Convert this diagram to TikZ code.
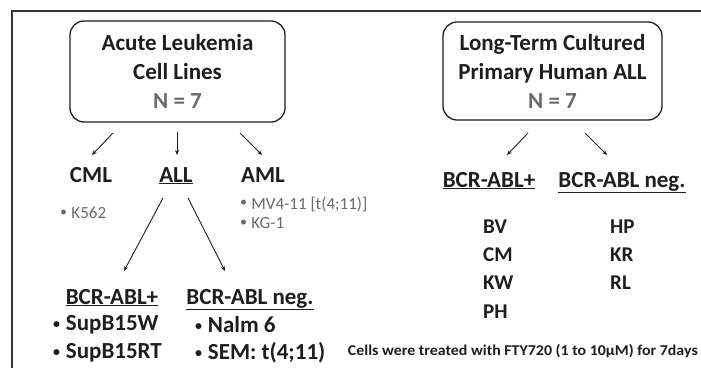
\documentclass[tikz,border=0pt]{standalone}
\usepackage{fontspec}
\setmainfont{Carlito}
\usetikzlibrary{arrows.meta}
\definecolor{ink}{HTML}{1E1E1E}
\definecolor{soft}{HTML}{6A6A6A}
\definecolor{frame}{HTML}{333333}
\tikzset{
  grp/.style={draw=ink, line width=1.3pt, rounded corners=14pt, align=center, text=ink,
    font=\fontsize{23}{29}\selectfont\bfseries, inner sep=0pt},
  cat/.style={text=ink, font=\fontsize{23}{27}\selectfont\bfseries, inner sep=1pt, anchor=base},
  item/.style={text=ink, font=\fontsize{23}{27}\selectfont\bfseries, anchor=west, inner sep=0pt},
  pat/.style={text=ink, font=\fontsize{21}{25}\selectfont\bfseries, anchor=west, inner sep=0pt},
  small/.style={text=soft, font=\fontsize{17}{20}\selectfont, anchor=west, inner sep=0pt},
  arr/.style={draw=ink, line width=0.9pt, -{Stealth[length=5pt,width=4pt]}},
}
\newcommand{\bul}{{\fontsize{14}{14}\selectfont\raisebox{0.15em}{•}}\hspace{0.25em}}
\begin{document}
\begin{tikzpicture}[x=1pt,y=-1pt]
\useasboundingbox (0,0) rectangle (701,367);
\fill[white] (0,0) rectangle (701,367);
% frame
\draw[frame, line width=2pt] (12,380) -- (12,11) -- (710,11);

% boxes
\node[grp, minimum width=215pt, minimum height=101pt] (boxL) at (177.5,71.5)
  {Acute Leukemia\\Cell Lines\\{\color{soft}N = 7}};
\node[grp, minimum width=219pt, minimum height=98pt] (boxR) at (552.5,71)
  {Long-Term Cultured\\Primary Human ALL\\{\color{soft}N = 7}};

% categories left
\node[cat] (cml) at (91,182) {CML};
\node[cat] (all) at (176,182) {\underline{ALL}};
\node[cat] (aml) at (263,182) {AML};

\coordinate (s1) at (113,133); \coordinate (e1) at (92,155);
\coordinate (s2) at (177,132); \coordinate (e2) at (177,155);
\coordinate (s3) at (240,133); \coordinate (e3) at (262,155);
\draw[arr] (s1) -- (e1);
\draw[arr] (s2) -- (e2);
\draw[arr] (s3) -- (e3);

\node[small] (k562) at (60,213) {\bul K562};
\node[small] (mv4) at (240,204) {\bul MV4-11 [t(4;11)]};
\node[small] (kg1) at (240,223) {\bul KG-1};

% ALL split
\node[cat] (bpL) at (112,304) {\underline{BCR-ABL+}};
\node[cat] (bnL) at (250,304) {\underline{BCR-ABL neg.}};
\coordinate (s4) at (163,198); \coordinate (e4) at (124,271);
\coordinate (s5) at (188,198); \coordinate (e5) at (225,271);
\draw[arr] (s4) -- (e4);
\draw[arr] (s5) -- (e5);

\node[item] (sup1) at (53,325) {\bul SupB15W};
\node[item] (sup2) at (53,353) {\bul SupB15RT};
\node[item] (nalm) at (195,325) {\bul Nalm 6};
\node[item] (sem) at (195,353) {\bul SEM: t(4;11)};

% right side
\node[cat] (bpR) at (489,187) {\underline{BCR-ABL+}};
\node[cat] (bnR) at (622,187) {\underline{BCR-ABL neg.}};
\coordinate (s6) at (528,133); \coordinate (e6) at (507,155);
\coordinate (s7) at (585,133); \coordinate (e7) at (607,155);
\draw[arr] (s6) -- (e6);
\draw[arr] (s7) -- (e7);

\node[pat] (bv) at (483,227) {BV};
\node[pat] (cm) at (483,255) {CM};
\node[pat] (kw) at (483,283) {KW};
\node[pat] (ph) at (483,312) {PH};
\node[pat] (hp) at (610,227) {HP};
\node[pat] (kr) at (610,255) {KR};
\node[pat] (rl) at (610,283) {RL};

\node[text=ink, font=\fontsize{15}{17}\selectfont\bfseries, anchor=east, inner sep=0pt, xscale=1.06] (note) at (698,351)
  {Cells were treated with FTY720 (1 to 10μM) for 7days};
\end{tikzpicture}
\end{document}
